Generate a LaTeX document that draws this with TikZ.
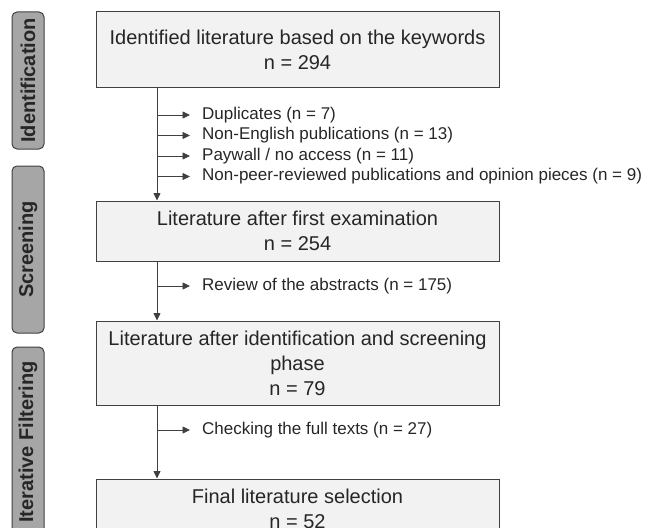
\documentclass[tikz,border=0pt]{standalone}
\usepackage{fontspec}
\setmainfont{Liberation Sans}
\usetikzlibrary{arrows.meta}
\definecolor{boxfill}{HTML}{F2F2F2}
\definecolor{phasefill}{HTML}{A6A6A6}
\definecolor{linegray}{HTML}{404040}
\definecolor{textgray}{HTML}{262626}
\begin{document}
\begin{tikzpicture}[
    x=1pt, y=-1pt,
    stage/.style={draw=linegray, line width=1pt, fill=boxfill, minimum width=403pt, align=center, font=\fontsize{20}{25}\selectfont, text=textgray, inner sep=0pt},
    phase/.style={draw=linegray, line width=1pt, fill=phasefill, rounded corners=5pt, minimum height=32pt, rotate=90, font=\bfseries\fontsize{20}{24}\selectfont, text=textgray, inner sep=0pt},
    excl/.style={anchor=west, font=\fontsize{17}{20}\selectfont, text=textgray, inner sep=0pt},
    flow/.style={draw=linegray, line width=0.8pt, -{Triangle[length=7.5pt,width=7pt]}},
    branch/.style={flow, shorten >=12pt}
]
\clip (0,0) rectangle (650,527);

% phases
\node[phase, minimum width=137pt] (identification) at (28,80.5) {Identification};
\node[phase, minimum width=167pt] (screening) at (28,249.5) {Screening};
\node[phase, minimum width=190pt] (filtering) at (28,442) {Iterative Filtering};

% stages
\node[stage, minimum height=75pt] (ident) at (297.5,49.5) {Identified literature based on the keywords\\ n = 294};
\node[stage, minimum height=60pt] (first) at (297.5,231) {Literature after first examination\\ n = 254};
\node[stage, minimum height=84pt] (screen) at (297.5,363) {Literature after identification and screening\\ phase\\ n = 79};
\node[stage, minimum height=60pt] (final) at (297.5,509) {Final literature selection\\ n = 52};

% exclusions
\node[excl] (dup) at (202,115) {Duplicates (n = 7)};
\node[excl] (lang) at (202,135.5) {Non-English publications (n = 13)};
\node[excl] (pay) at (202,156) {Paywall / no access (n = 11)};
\node[excl] (peer) at (202,176.5) {Non-peer-reviewed publications and opinion pieces (n = 9)};
\node[excl] (abstr) at (202,286) {Review of the abstracts (n = 175)};
\node[excl] (full) at (202,430) {Checking the full texts (n = 27)};

% connectors
\coordinate (trunk) at (157,0);
\draw[flow] (ident.south -| trunk) -- (first.north -| trunk);
\draw[flow] (first.south -| trunk) -- (screen.north -| trunk);
\draw[flow] (screen.south -| trunk) -- (final.north -| trunk);
\foreach \n in {dup, lang, pay, peer, abstr, full}
    \draw[branch] (trunk |- \n.west) -- (\n.west);
\end{tikzpicture}
\end{document}
